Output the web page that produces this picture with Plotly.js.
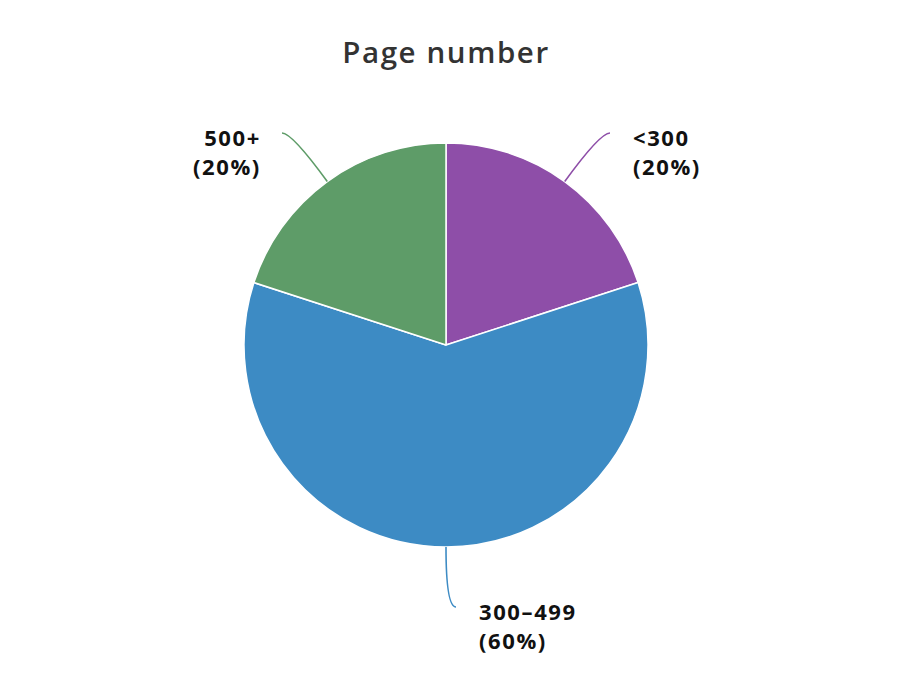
<!DOCTYPE html>
<html><head><meta charset="utf-8">
<script src="https://cdn.plot.ly/plotly-3.0.1.min.js"></script>
<style>body{margin:0;background:#fff}#chart{width:914px;height:682px}</style>
</head><body><div id="chart"></div>
<script>
const categories = ["<300", "300–499", "500+"];
const values = [20, 60, 20];
const colors = ["#8E4EA8", "#3D8BC4", "#5E9C68"];
const titleText = "Page number";

const W = 914, H = 682;
const cx = 446, cy = 345, R = 202;
const m = {l: cx - R, r: W - (cx + R), t: cy - R, b: H - (cy + R)};
const toPx = (px) => (px - m.l) / (2 * R);
const toPy = (py) => (cy + R - py) / (2 * R);
const spaced = (t, ls) => `<span style="letter-spacing:${ls}px">${t}</span>`;

const total = values.reduce((a, b) => a + b, 0);
const shapes = [], annotations = [];
let cum = 0;
values.forEach((v, i) => {
  const mid = (cum + v / 2) / total * 2 * Math.PI;
  cum += v;
  const s = Math.sin(mid), c = Math.cos(mid);
  const side = s >= -1e-9 ? 1 : -1;
  const x0 = cx + R * s, y0 = cy - R * c;
  const r2 = 262;
  const x1 = cx + r2 * s, y1 = cy - r2 * c;
  const x2 = x1 + 10 * side, y2 = y1;
  shapes.push({
    type: "path", xref: "paper", yref: "paper",
    path: `M ${toPx(x0)} ${toPy(y0)} Q ${toPx(x1)} ${toPy(y1)} ${toPx(x2)} ${toPy(y2)}`,
    line: {color: colors[i], width: 1.6}
  });
  const pct = Math.round(v / total * 100);
  annotations.push({
    xref: "paper", yref: "paper", x: toPx(x2), y: toPy(y2),
    xshift: (side > 0 ? 21 : 19) * side, yshift: -18,
    xanchor: side > 0 ? "left" : "right", yanchor: "middle",
    align: side > 0 ? "left" : "right",
    showarrow: false,
    text: spaced(categories[i].replace("<", "&lt;"), 1.6) + "<br>" + spaced("(" + pct + "%)", 1.6),
    font: {family: "Open Sans", size: 22, color: "#111", weight: "bold"}
  });
});

const data = [{
  type: "pie", labels: categories, values: values,
  sort: false, direction: "clockwise", rotation: 0,
  marker: {colors: colors, line: {color: "#fff", width: 1.5}},
  textinfo: "none", hoverinfo: "label+percent"
}];
const layout = {
  width: W, height: H, showlegend: false,
  margin: m, paper_bgcolor: "#fff",
  title: {text: spaced(titleText, 1.6), xref: "paper", x: 0.5, yref: "container", y: 1 - 53 / H, yanchor: "middle",
          font: {family: "Open Sans", size: 29.5, color: "#333", weight: 600}},
  shapes: shapes, annotations: annotations
};
Plotly.newPlot("chart", data, layout, {displayModeBar: false});
</script></body></html>
